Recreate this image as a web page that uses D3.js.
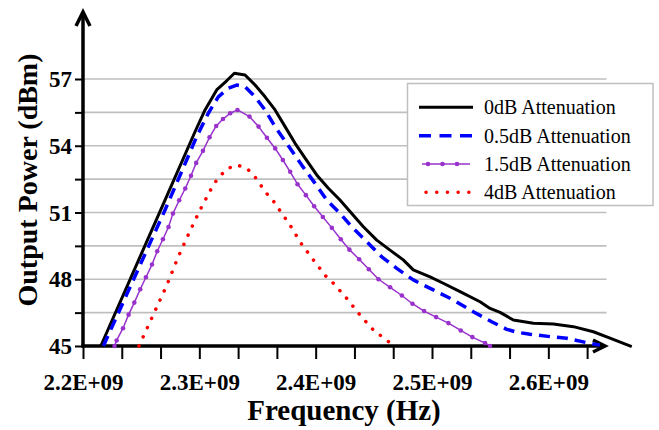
<!DOCTYPE html>
<html><head><meta charset="utf-8">
<script src="https://cdn.jsdelivr.net/npm/d3@7"></script>
<style>body{margin:0;background:#fff;} svg{display:block;}</style>
</head><body>
<svg id="chart" width="659" height="430"></svg>
<script>
// ---- data (frequency in units of 1E+09 Hz, power in dBm) ----
const seriesNames = ["0dB Attenuation", "0.5dB Attenuation", "1.5dB Attenuation", "4dB Attenuation"];

const freq0 = [2.2153, 2.2705, 2.2963, 2.3049, 2.3149, 2.3235, 2.3301, 2.3393, 2.3479, 2.3565, 2.3651, 2.3737, 2.3823, 2.3909, 2.4009, 2.4109, 2.4209, 2.431, 2.441, 2.4525, 2.4639, 2.4753, 2.4839, 2.4983, 2.5097, 2.5241, 2.5413, 2.5499, 2.5585, 2.5699, 2.5871, 2.6043, 2.6215, 2.6387, 2.653, 2.6717];
const power0 = [45.0, 51.56, 54.63, 55.61, 56.51, 56.92, 57.26, 57.18, 56.73, 56.20, 55.61, 54.86, 54.11, 53.44, 52.69, 52.09, 51.56, 50.96, 50.36, 49.76, 49.31, 48.87, 48.42, 48.11, 47.82, 47.44, 46.99, 46.69, 46.51, 46.17, 46.02, 45.99, 45.87, 45.64, 45.35, 44.97];

const freq05 = [2.2175, 2.2705, 2.2891, 2.2977, 2.3077, 2.3163, 2.3249, 2.3321, 2.3393, 2.3479, 2.3565, 2.3651, 2.378, 2.388, 2.3995, 2.4095, 2.4209, 2.431, 2.4439, 2.4568, 2.4697, 2.4839, 2.5011, 2.5183, 2.5355, 2.5513, 2.5642, 2.5728, 2.5843, 2.6015, 2.6158, 2.633, 2.6444];
const power05 = [45.0, 51.11, 53.36, 54.41, 55.46, 56.20, 56.58, 56.73, 56.65, 56.20, 55.61, 54.86, 53.89, 53.13, 52.31, 51.56, 50.96, 50.36, 49.69, 49.01, 48.49, 47.97, 47.52, 47.07, 46.54, 46.09, 45.75, 45.62, 45.53, 45.42, 45.35, 45.15, 45.04];

const freq15 = [2.2271, 2.2289, 2.2344, 2.2392, 2.2441, 2.2492, 2.2541, 2.2593, 2.2638, 2.2687, 2.2735, 2.2773, 2.2827, 2.2879, 2.2928, 2.2973, 2.3031, 2.3088, 2.3145, 2.3203, 2.3265, 2.3328, 2.3431, 2.3509, 2.3581, 2.3652, 2.3718, 2.3781, 2.3844, 2.3916, 2.3987, 2.4062, 2.4139, 2.4216, 2.429, 2.4374, 2.4457, 2.454, 2.464, 2.4741, 2.4832, 2.4932, 2.5035, 2.5141, 2.5247, 2.5347, 2.5456, 2.5499];
const power15 = [45.0, 45.25, 45.80, 46.41, 46.95, 47.55, 48.09, 48.66, 49.26, 49.80, 50.35, 50.95, 51.55, 52.08, 52.65, 53.23, 53.77, 54.38, 54.89, 55.20, 55.46, 55.61, 55.31, 54.86, 54.36, 53.88, 53.36, 52.83, 52.27, 51.78, 51.28, 50.80, 50.31, 49.80, 49.33, 48.90, 48.45, 48.00, 47.64, 47.27, 46.90, 46.57, 46.30, 46.03, 45.70, 45.40, 45.13, 45.0];

const freq4 = [2.2481, 2.261, 2.272, 2.2819, 2.2926, 2.3006, 2.3086, 2.3129, 2.3186, 2.3249, 2.3326, 2.3407, 2.3473, 2.3522, 2.3565, 2.3631, 2.3679, 2.3779, 2.3871, 2.3975, 2.4086, 2.4152, 2.4267, 2.4381, 2.4496, 2.4633, 2.4656];
const power4 = [45.0, 46.47, 47.73, 49.01, 50.24, 51.11, 51.91, 52.31, 52.69, 52.99, 53.13, 52.99, 52.64, 52.28, 51.93, 51.56, 51.19, 50.44, 49.64, 48.90, 48.15, 47.82, 47.14, 46.39, 45.72, 45.17, 45.0];

const xTickValues = [2.2, 2.3, 2.4, 2.5, 2.6];
const xTickLabels = ["2.2E+09", "2.3E+09", "2.4E+09", "2.5E+09", "2.6E+09"];
const yTickValues = [45, 48, 51, 54, 57];
const yTickLabels = ["45", "48", "51", "54", "57"];
const xTitle = "Frequency (Hz)";
const yTitle = "Output Power (dBm)";

// ---- chart ----
const svg = d3.select("#chart");
const FONT = "'Liberation Serif','Times New Roman',serif";

const x = d3.scaleLinear().domain([2.2, 2.65]).range([83, 606.5]);
const y = d3.scaleLinear().domain([45, 57]).range([346, 79]);

const yMinor = d3.range(45, 57.01, 1.5);
const xMinor = d3.range(0, 14).map(k => 2.2 + k * 0.1 / 3);

// gridlines
svg.append("g").selectAll("line")
  .data(yMinor.filter(v => v > 45))
  .join("line")
  .attr("x1", x(2.2)).attr("x2", x(2.65))
  .attr("y1", d => y(d)).attr("y2", d => y(d))
  .attr("stroke", "#bfbfbf").attr("stroke-width", 1.6);

// y axis ticks + labels
const yAxis = svg.append("g").attr("transform", `translate(${x(2.2)},0)`)
  .call(d3.axisLeft(y).tickValues(yMinor).tickSize(8)
    .tickFormat(d => { const i = yTickValues.findIndex(v => Math.abs(v - d) < 1e-6); return i >= 0 ? yTickLabels[i] : ""; }));
yAxis.select(".domain").remove();
yAxis.selectAll(".tick line").attr("stroke", "#000").attr("stroke-width", 2);
yAxis.selectAll(".tick text").attr("x", -11).attr("dy", "0.33em")
  .attr("font-family", FONT).attr("font-weight", "bold").attr("font-size", 23).attr("fill", "#000");

// x axis ticks + labels
const xAxis = svg.append("g").attr("transform", `translate(0,${y(45)})`)
  .call(d3.axisBottom(x).tickValues(xMinor).tickSize(13)
    .tickFormat(d => { const i = xTickValues.findIndex(v => Math.abs(v - d) < 1e-6); return i >= 0 ? xTickLabels[i] : ""; }));
xAxis.select(".domain").remove();
xAxis.selectAll(".tick line").attr("stroke", "#000").attr("stroke-width", 2);
xAxis.selectAll(".tick text").attr("y", 44).attr("dy", null)
  .attr("font-family", FONT).attr("font-weight", "bold").attr("font-size", 23).attr("fill", "#000");

// axis lines with arrows
const axes = svg.append("g").attr("stroke", "#000").attr("fill", "none")
  .attr("stroke-width", 3.5).attr("stroke-linejoin", "miter");
axes.append("line").attr("x1", x(2.2)).attr("y1", y(45) + 1.5).attr("x2", x(2.2)).attr("y2", 12);
axes.append("path").attr("d", `M${x(2.2) - 7},${26} L${x(2.2)},${12} L${x(2.2) + 7},${26}`);
axes.append("line").attr("x1", x(2.2) - 1.5).attr("y1", y(45)).attr("x2", 605).attr("y2", y(45));
axes.append("path").attr("d", `M${593},${y(45) - 6} L${605},${y(45)} L${593},${y(45) + 6}`);

// series
const series = [
  { f: freq0, p: power0, color: "#000000", width: 3, dash: null },
  { f: freq05, p: power05, color: "#0000ff", width: 3.5, dash: "11,7" },
  { f: freq15, p: power15, color: "#9932cc", width: 1.5, dash: null, markers: true },
  { f: freq4, p: power4, color: "#ff0000", width: 3.5, dash: "0.1,10", cap: "round" }
];
const line = d3.line().x(d => x(d[0])).y(d => y(d[1]));
series.forEach(s => {
  const pts = s.f.map((f, i) => [f, s.p[i]]);
  svg.append("path").datum(pts)
    .attr("d", line).attr("fill", "none")
    .attr("stroke", s.color).attr("stroke-width", s.width)
    .attr("stroke-dasharray", s.dash)
    .attr("stroke-linecap", s.cap || "butt")
    .attr("stroke-linejoin", "round");
  if (s.markers) {
    svg.append("g").selectAll("circle").data(pts).join("circle")
      .attr("cx", d => x(d[0])).attr("cy", d => y(d[1])).attr("r", 2.3)
      .attr("fill", s.color);
  }
});

// legend
const lg = svg.append("g");
lg.append("rect").attr("x", 407.5).attr("y", 83.5).attr("width", 245.5).attr("height", 122)
  .attr("fill", "#fff").attr("stroke", "#bfbfbf").attr("stroke-width", 1.5);
const rowY = [107.3, 135.7, 164, 192.3];
series.forEach((s, i) => {
  const ry = rowY[i];
  if (i === 2) {
    lg.append("line").attr("x1", 422).attr("x2", 470).attr("y1", ry).attr("y2", ry)
      .attr("stroke", s.color).attr("stroke-width", s.width);
    lg.selectAll(null).data([428, 442.5, 457]).join("circle")
      .attr("cx", d => d).attr("cy", ry).attr("r", 2.3).attr("fill", s.color);
  } else {
    lg.append("line").attr("x1", i === 3 ? 426 : 419).attr("x2", i === 3 ? 469 : 473)
      .attr("y1", ry).attr("y2", ry)
      .attr("stroke", s.color).attr("stroke-width", s.width)
      .attr("stroke-dasharray", i === 1 ? "12,8.5" : (i === 3 ? "0.1,10.6" : null))
      .attr("stroke-linecap", s.cap || "butt");
  }
  lg.append("text").attr("x", 484).attr("y", ry).attr("dy", "0.34em")
    .attr("font-family", FONT).attr("font-size", 20).attr("fill", "#000")
    .text(seriesNames[i]);
});

// titles
svg.append("text").attr("x", 344).attr("y", 420).attr("text-anchor", "middle")
  .attr("font-family", FONT).attr("font-weight", "bold").attr("font-size", 29).attr("fill", "#000")
  .text(xTitle);
svg.append("text").attr("transform", "translate(37,180) rotate(-90)").attr("text-anchor", "middle")
  .attr("font-family", FONT).attr("font-weight", "bold").attr("font-size", 28).attr("fill", "#000")
  .text(yTitle);
</script>
</body></html>
